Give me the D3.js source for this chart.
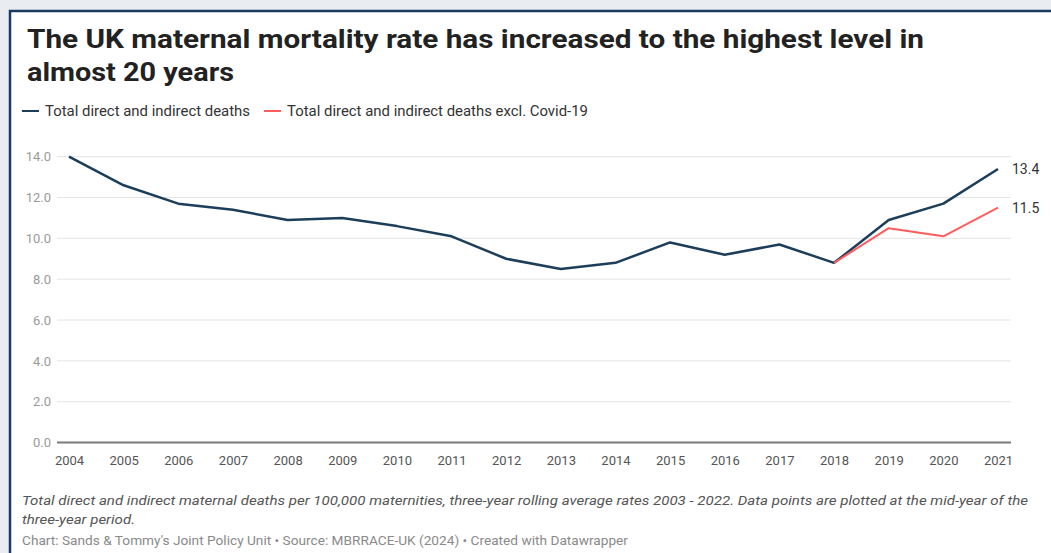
<!DOCTYPE html>
<html>
<head>
<meta charset="utf-8">
<script src="https://cdn.jsdelivr.net/npm/d3@7"></script>
<style>
  html, body { margin: 0; padding: 0; background: #e9edf1; }
  svg { display: block; }
  text { font-family: Roboto, "Noto Sans", sans-serif; }
</style>
</head>
<body>
<svg id="chart" width="1051" height="553"></svg>
<script>
// Three-year rolling average maternal mortality, plotted at the mid-year
const years = [2004, 2005, 2006, 2007, 2008, 2009, 2010, 2011, 2012, 2013,
               2014, 2015, 2016, 2017, 2018, 2019, 2020, 2021];
const totalDeaths = [14.0, 12.6, 11.7, 11.4, 10.9, 11.0, 10.6, 10.1, 9.0, 8.5,
                     8.8, 9.8, 9.2, 9.7, 8.8, 10.9, 11.7, 13.4];
const exclCovidYears = [2018, 2019, 2020, 2021];
const exclCovidDeaths = [8.8, 10.5, 10.1, 11.5];
const yTicks = [0, 2, 4, 6, 8, 10, 12, 14];
const seriesNames = ["Total direct and indirect deaths", "Total direct and indirect deaths excl. Covid-19"];
const seriesColors = ["#1d3e5a", "#ff5c5c"];

const svg = d3.select("#chart");

// Card with dark navy top/left border
svg.append("rect").attr("x", 10).attr("y", 11).attr("width", 1060).attr("height", 560)
  .attr("fill", "#ffffff").attr("stroke", "#1a3a64").attr("stroke-width", 2.5);

// Title
const titleLines = ["The UK maternal mortality rate has increased to the highest level in", "almost 20 years"];
const titleWidths = [897, 207];
svg.selectAll("text.title").data(titleLines).join("text")
  .attr("class", "title")
  .attr("x", 27).attr("y", (d, i) => 48 + i * 33)
  .attr("textLength", (d, i) => titleWidths[i]).attr("lengthAdjust", "spacingAndGlyphs")
  .attr("font-size", 25).attr("font-weight", 700).attr("fill", "#222")
  .text(d => d);

// Legend
const legendX = [22, 264];
const legendW = [205, 301];
const legend = svg.append("g");
seriesNames.forEach((name, i) => {
  legend.append("line").attr("x1", legendX[i]).attr("x2", legendX[i] + 17)
    .attr("y1", 111).attr("y2", 111)
    .attr("stroke", seriesColors[i]).attr("stroke-width", 2);
  legend.append("text").attr("x", legendX[i] + 23).attr("y", 116)
    .attr("font-size", 14).attr("fill", "#333")
    .attr("textLength", legendW[i]).attr("lengthAdjust", "spacingAndGlyphs")
    .text(name);
});

// Scales
const x = d3.scalePoint().domain(years).range([69, 998]);
const y = d3.scaleLinear().domain([0, 14]).range([442.5, 156.7]);
const plotLeft = 57, plotRight = 1011;

// Gridlines
svg.append("g").selectAll("line").data(yTicks.filter(t => t > 0)).join("line")
  .attr("x1", plotLeft).attr("x2", plotRight)
  .attr("y1", d => y(d)).attr("y2", d => y(d))
  .attr("stroke", "#e4e4e4").attr("stroke-width", 1);

// Y axis labels
const yAxis = svg.append("g").attr("transform", "translate(51,0)")
  .call(d3.axisLeft(y).tickValues(yTicks).tickSize(0).tickPadding(0).tickFormat(d3.format(".1f")));
yAxis.select(".domain").remove();
yAxis.selectAll("text").attr("font-size", 13).attr("fill", "#9a9a9a")
  .attr("font-family", "Roboto, sans-serif");

// Zero baseline
svg.append("line").attr("x1", plotLeft).attr("x2", plotRight)
  .attr("y1", y(0)).attr("y2", y(0)).attr("stroke", "#7a7a7a").attr("stroke-width", 2);

// X axis labels
const xAxis = svg.append("g").attr("transform", `translate(0,${y(0) + 8})`)
  .call(d3.axisBottom(x).tickSize(0).tickPadding(5).tickFormat(d3.format("d")));
xAxis.select(".domain").remove();
xAxis.selectAll("text").attr("font-size", 13).attr("fill", "#555")
  .attr("font-family", "Roboto, sans-serif");

// Lines
const line = d3.line().x(d => x(d[0])).y(d => y(d[1]));
const totalPts = years.map((yr, i) => [yr, totalDeaths[i]]);
const exclPts = exclCovidYears.map((yr, i) => [yr, exclCovidDeaths[i]]);

svg.append("path").datum(totalPts).attr("d", line)
  .attr("fill", "none").attr("stroke", seriesColors[0]).attr("stroke-width", 2.5)
  .attr("stroke-linejoin", "round");
svg.append("path").datum(exclPts).attr("d", line)
  .attr("fill", "none").attr("stroke", seriesColors[1]).attr("stroke-width", 2)
  .attr("stroke-linejoin", "round");

// End-value labels
const endLabels = [totalPts[totalPts.length - 1], exclPts[exclPts.length - 1]];
svg.selectAll("text.endlabel").data(endLabels).join("text")
  .attr("class", "endlabel")
  .attr("x", 1012).attr("y", d => y(d[1]) + 5)
  .attr("font-size", 14).attr("fill", "#333")
  .text(d => d3.format(".1f")(d[1]));

// Notes
const noteLines = [
  "Total direct and indirect maternal deaths per 100,000 maternities, three-year rolling average rates 2003 - 2022. Data points are plotted at the mid-year of the",
  "three-year period."
];
const noteWidths = [1006, 113];
svg.selectAll("text.note").data(noteLines).join("text")
  .attr("class", "note")
  .attr("x", 22).attr("y", (d, i) => 505 + i * 19)
  .attr("font-size", 13.5).attr("font-style", "italic").attr("fill", "#555")
  .attr("textLength", (d, i) => noteWidths[i]).attr("lengthAdjust", "spacingAndGlyphs")
  .text(d => d);

svg.append("text").attr("x", 22).attr("y", 545)
  .attr("font-size", 13).attr("fill", "#8a8a8a")
  .attr("textLength", 606).attr("lengthAdjust", "spacingAndGlyphs")
  .text("Chart: Sands & Tommy's Joint Policy Unit \u2022 Source: MBRRACE-UK (2024) \u2022 Created with Datawrapper");
</script>
</body>
</html>
